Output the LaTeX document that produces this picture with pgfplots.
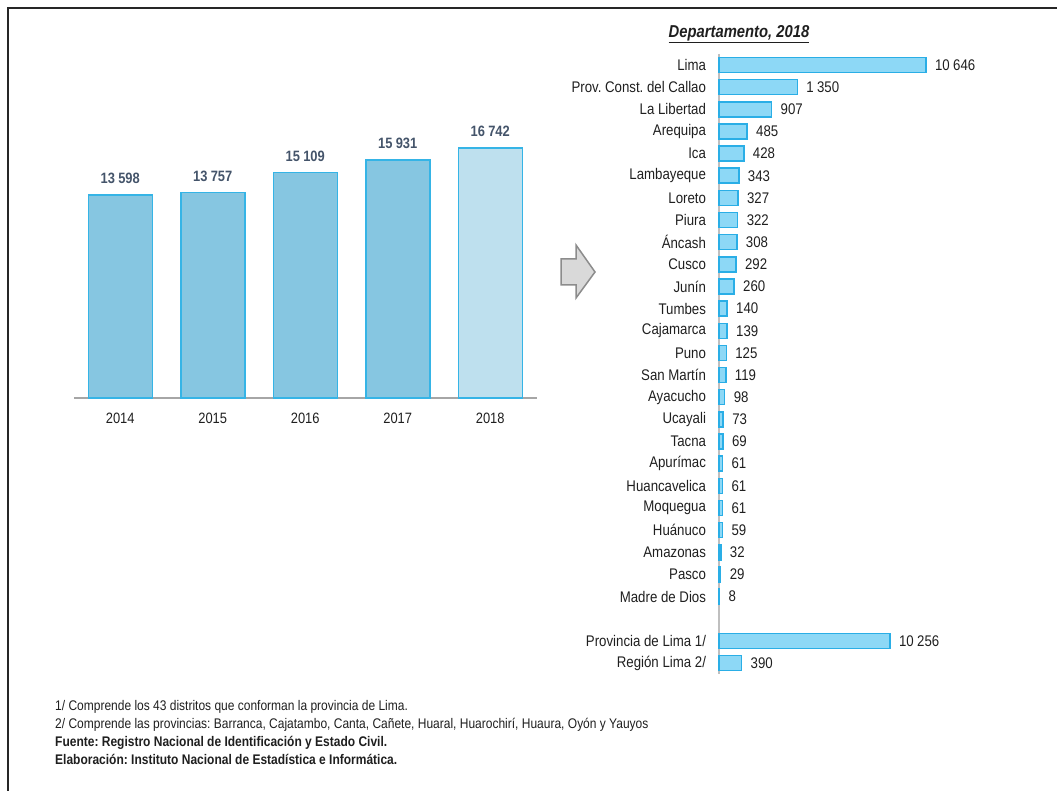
\documentclass[border=0pt]{standalone}
\usepackage{pgfplots}
\pgfplotsset{compat=1.18}
\usepackage{pgfplotstable}
\usepackage{fontspec}
\setmainfont{Liberation Sans}[FakeStretch=0.86]
\frenchspacing
\definecolor{barL}{HTML}{86C6E1}
\definecolor{barL2}{HTML}{BEE0EE}
\definecolor{edgeL}{HTML}{35B4E6}
\definecolor{barR}{HTML}{8DD8F6}
\definecolor{edgeR}{HTML}{2AAEE6}
\definecolor{valC}{HTML}{44546A}
\definecolor{txt}{HTML}{1F1F1F}
\definecolor{axg}{HTML}{A6A6A6}

\pgfplotstableread{
i v
0 13598
1 13757
2 15109
3 15931
}\yearsA
\pgfplotstableread{
i v
4 16742
}\yearsB
\pgfplotstableread{
i v
0 10646
1 1350
2 907
3 485
4 428
5 343
6 327
7 322
8 308
9 292
10 260
11 140
12 139
13 125
14 119
15 98
16 73
17 69
18 61
19 61
20 61
21 59
22 32
23 29
24 8
26 10256
27 390
}\dep

\begin{document}
\begin{tikzpicture}[x=1pt,y=1pt]
\useasboundingbox (0,0) rectangle (1057,790);
% frame
\draw[line width=1.8pt,black!85] (8,-2) -- (8,782) -- (1060,782);

% left chart
\begin{axis}[
  at={(74pt,392pt)}, anchor=south west,
  scale only axis, width=462.5pt, height=268.7pt,
  xmin=-0.5, xmax=4.5, ymin=0, ymax=18000,
  axis x line=bottom, axis y line=none,
  axis line style={axg, line width=1.3pt, -},
  xtick={0,1,2,3,4}, xticklabels={2014,2015,2016,2017,2018},
  major tick length=0pt,
  xticklabel style={font=\fontsize{15}{18}\selectfont, text=txt, yshift=-11pt},
  ybar, bar width=64pt, bar shift=0pt,
  nodes near coords={\pgfmathprintnumber[fixed,precision=0,assume math mode=true,1000 sep={\hspace{0.22em}}]{\pgfplotspointmeta}},
  every node near coord/.append style={font=\bfseries\fontsize{15}{18}\selectfont, text=valC, yshift=7pt, anchor=south},
  clip=false,
]
\addplot[fill=barL, draw=edgeL, line width=1.5pt] table[x=i,y=v]{\yearsA};
\addplot[fill=barL2, draw=edgeL, line width=1.5pt] table[x=i,y=v]{\yearsB};
\end{axis}

% arrow
\filldraw[fill=black!15, draw=black!45, line width=1.5pt, line join=miter]
  (561,531) -- (576,531) -- (576,545) -- (595,518) -- (576,492) -- (576,505) -- (561,505) -- cycle;

% title
\node[font=\bfseries\itshape\fontsize{17.2}{20}\selectfont, text=txt] at (739,756) {\underline{Departamento, 2018}};

% right chart
\begin{axis}[
  at={(719pt,736.1pt)}, anchor=north west,
  scale only axis, width=207pt, height=620.2pt,
  xmin=0, enlarge x limits=false,
  x coord trafo/.code={\pgfmathparse{#1<=1350 ? 0.058*#1 : (#1<=10256 ? 78.3+(#1-1350)*0.010409 : 171+(#1-10256)*0.0923)}},
  ymin=-0.5, ymax=27.5, y dir=reverse,
  axis y line=left, axis x line=none,
  axis line style={black!25, line width=1.5pt, -},
  ytick={0,1,2,3,4,5,6,7,8,9,10,11,12,13,14,15,16,17,18,19,20,21,22,23,24,26,27},
  yticklabels={Lima,Prov. Const. del Callao,La Libertad,Arequipa,Ica,Lambayeque,Loreto,Piura,Áncash,Cusco,Junín,Tumbes,Cajamarca,Puno,San Martín,Ayacucho,Ucayali,Tacna,Apurímac,Huancavelica,Moquegua,Huánuco,Amazonas,Pasco,Madre de Dios,Provincia de Lima 1/,Región Lima 2/},
  major tick length=0pt,
  yticklabel style={font=\fontsize{15.4}{18}\selectfont, text=txt, xshift=-9.5pt},
  xbar, bar width=15pt, bar shift=0pt,
  point meta=explicit,
  nodes near coords={\pgfmathprintnumber[fixed,precision=0,assume math mode=true,1000 sep={\hspace{0.22em}}]{\pgfplotspointmeta}},
  every node near coord/.append style={font=\fontsize{15.4}{18}\selectfont, text=txt, anchor=west, xshift=5pt},
  clip=false,
]
\addplot[fill=barR, draw=edgeR, line width=1.5pt] table[x=v,y=i,meta=v]{\dep};
\end{axis}

% footnotes
\begin{scope}[every node/.style={anchor=base west, inner sep=0pt, font=\fontsize{13.95}{16}\selectfont, text=txt}]
\node at (55,79.5) {1/ Comprende los 43 distritos que conforman la provincia de Lima.};
\node at (55,61.5) {2/ Comprende las provincias: Barranca, Cajatambo, Canta, Cañete, Huaral, Huarochirí, Huaura, Oyón y Yauyos};
\node[font=\bfseries\fontsize{13.95}{16}\selectfont] at (55,43.5) {Fuente: Registro Nacional de Identificación y Estado Civil.};
\node[font=\bfseries\fontsize{13.95}{16}\selectfont] at (55,25.5) {Elaboración: Instituto Nacional de Estadística e Informática.};
\end{scope}
\end{tikzpicture}
\end{document}
